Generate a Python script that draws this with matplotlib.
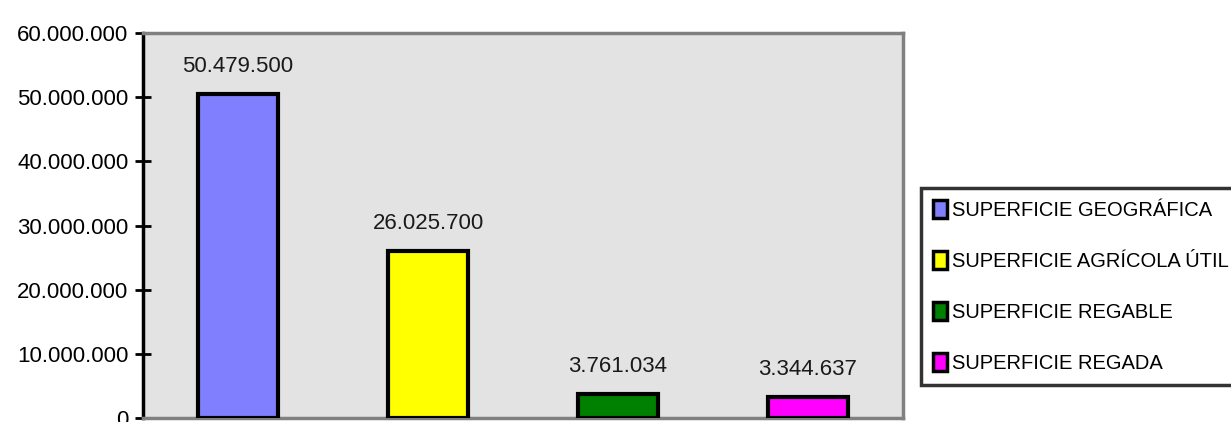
import matplotlib
matplotlib.use("Agg")
import matplotlib.pyplot as plt
from matplotlib.patches import Patch

plt.rcParams['font.family'] = ['Liberation Sans', 'DejaVu Sans']

# datos
categorias = ["SUPERFICIE GEOGRÁFICA", "SUPERFICIE AGRÍCOLA ÚTIL",
              "SUPERFICIE REGABLE", "SUPERFICIE REGADA"]
valores = [50479500, 26025700, 3761034, 3344637]
colores = ["#8080FF", "#FFFF00", "#008000", "#FF00FF"]
y_ticks = [0, 10000000, 20000000, 30000000, 40000000, 50000000, 60000000]


def fmt(v):
    return f"{v:,}".replace(",", ".")


fig = plt.figure(figsize=(12.31, 4.22), dpi=100)
ax = fig.add_axes([143 / 1231, 1 - 418 / 422, 760 / 1231, 385 / 422])
ax.set_facecolor("#E3E3E3")

x = range(len(valores))
bars = ax.bar(x, valores, width=0.42, color=colores, edgecolor="black",
              linewidth=3, zorder=3)

for b, v in zip(bars, valores):
    ax.text(b.get_x() + b.get_width() / 2, v + 2600000, fmt(v),
            ha="center", va="bottom", fontsize=16, color="#1a1a1a")

ax.set_xlim(-0.5, len(valores) - 0.5)
ax.set_ylim(0, 60000000)
ax.set_xticks([])
ax.set_yticks(y_ticks)
ax.set_yticklabels([fmt(t) for t in y_ticks], fontsize=16)
ax.tick_params(axis="y", direction="inout", length=11, width=2, pad=5)

ax.spines["left"].set_color("black")
ax.spines["left"].set_linewidth(2.5)
for s in ["top", "right", "bottom"]:
    ax.spines[s].set_color("#808080")
    ax.spines[s].set_linewidth(2.5)

handles = [Patch(facecolor=c, edgecolor="black", linewidth=2.5) for c in colores]
leg = fig.legend(handles, categorias, loc="upper left",
                 bbox_to_anchor=(921 / 1231, 1 - 188 / 422),
                 fontsize=14.5, frameon=True, fancybox=False,
                 handlelength=0.7, handleheight=1.0, handletextpad=0.25,
                 labelspacing=1.55, borderpad=0.6, borderaxespad=0)
leg.get_frame().set_edgecolor("black")
leg.get_frame().set_linewidth(2.5)

fig.savefig("out.png", dpi=100)
